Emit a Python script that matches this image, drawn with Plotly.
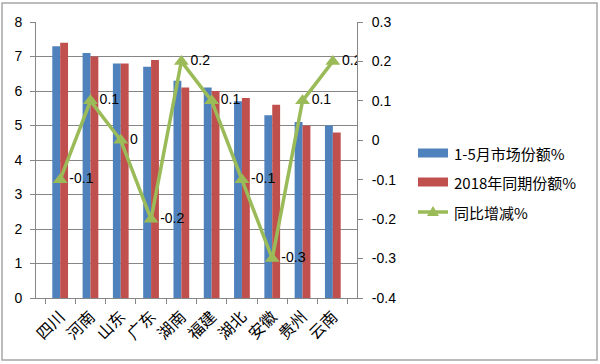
import plotly.graph_objects as go

categories = ["四川", "河南", "山东", "广东", "湖南", "福建", "湖北", "安徽", "贵州", "云南"]
share_2019 = [7.3, 7.1, 6.8, 6.7, 6.3, 6.1, 5.7, 5.3, 5.1, 5.0]
share_2018 = [7.4, 7.0, 6.8, 6.9, 6.1, 6.0, 5.8, 5.6, 5.0, 4.8]
yoy_change = [-0.1, 0.1, 0, -0.2, 0.2, 0.1, -0.1, -0.3, 0.1, 0.2]
series_names = ["1-5月市场份额%", "2018年同期份额%", "同比增减%"]
colors = ["#4F81BD", "#C0504D", "#9BBB59"]

num_font = "Liberation Sans, Arial, sans-serif"
cjk_font = "Noto Sans CJK SC"

# plot area in pixels
L, R, T, B = 36, 357, 22, 298
PW, PH = R - L, B - T


def px(x):
    return (x - L) / PW


def py(y):
    return (B - y) / PH


fig = go.Figure()
fig.add_trace(go.Bar(x=categories, y=share_2019, name=series_names[0],
                     marker=dict(color=colors[0], line=dict(width=0))))
fig.add_trace(go.Bar(x=categories, y=share_2018, name=series_names[1],
                     marker=dict(color=colors[1], line=dict(width=0))))
fig.add_trace(go.Scatter(x=categories, y=yoy_change, name=series_names[2], yaxis="y2",
                         mode="lines+markers+text",
                         line=dict(color=colors[2], width=3.5),
                         marker=dict(symbol="triangle-up", size=13, color=colors[2]),
                         text=[str(v) for v in yoy_change],
                         textposition="middle right",
                         textfont=dict(family=num_font, size=14, color="#000000")))

axis_common = dict(showline=True, linecolor="#868686", linewidth=1,
                   ticks="outside", ticklen=5, tickcolor="#868686", automargin=False)

shapes = [dict(type="rect", xref="paper", yref="paper",
               x0=px(2), x1=px(597), y0=py(360), y1=py(3),
               line=dict(color="#A6A6A6", width=1.5), fillcolor="rgba(0,0,0,0)",
               layer="below")]
annotations = []

# custom legend
leg_x0, leg_x1 = 418, 448
leg_rows = [153, 182, 212]
for i, (name, col, yc) in enumerate(zip(series_names, colors, leg_rows)):
    if i < 2:
        shapes.append(dict(type="rect", xref="paper", yref="paper",
                           x0=px(leg_x0), x1=px(leg_x1), y0=py(yc + 4.5), y1=py(yc - 4.5),
                           line=dict(width=0), fillcolor=col))
    else:
        shapes.append(dict(type="line", xref="paper", yref="paper",
                           x0=px(leg_x0), x1=px(leg_x1), y0=py(yc), y1=py(yc),
                           line=dict(color=col, width=3.5)))
        cx = (leg_x0 + leg_x1) / 2
        shapes.append(dict(type="path", xref="paper", yref="paper",
                           path=f"M {px(cx-6)} {py(yc+4)} L {px(cx+6)} {py(yc+4)} L {px(cx)} {py(yc-6)} Z",
                           line=dict(width=0), fillcolor=col))
    annotations.append(dict(xref="paper", yref="paper", x=px(452), y=py(yc),
                            xanchor="left", yanchor="middle", showarrow=False,
                            text=name,
                            font=dict(family=cjk_font, size=15, color="#000000")))

fig.update_layout(
    width=600, height=364,
    margin=dict(l=L, r=600 - R, t=T, b=364 - B, autoexpand=False),
    paper_bgcolor="white", plot_bgcolor="white",
    barmode="group", bargap=0.48, bargroupgap=0,
    showlegend=False,
    xaxis=dict(type="category", tickson="boundaries", tickangle=-45, showgrid=False,
               ticklabelstandoff=2,
               tickfont=dict(family=cjk_font, size=16, color="#000000"), **axis_common),
    yaxis=dict(range=[0, 8], dtick=1, showgrid=True, gridcolor="#868686", gridwidth=1,
               zeroline=False, ticklabelstandoff=5,
               tickfont=dict(family=num_font, size=14, color="#000000"),
               **axis_common),
    yaxis2=dict(range=[-0.4, 0.3], overlaying="y", side="right",
                showgrid=False, zeroline=False, ticklabelstandoff=6,
                tickvals=[-0.4, -0.3, -0.2, -0.1, 0, 0.1, 0.2, 0.3],
                ticktext=["-0.4", "-0.3", "-0.2", "-0.1", "0", "0.1", "0.2", "0.3"],
                tickfont=dict(family=num_font, size=14, color="#000000"),
                **axis_common),
    shapes=shapes,
    annotations=annotations,
)

fig.write_html("out.html", config={"displayModeBar": False},
               post_script="document.body.style.margin='0';document.body.style.overflow='hidden';")
